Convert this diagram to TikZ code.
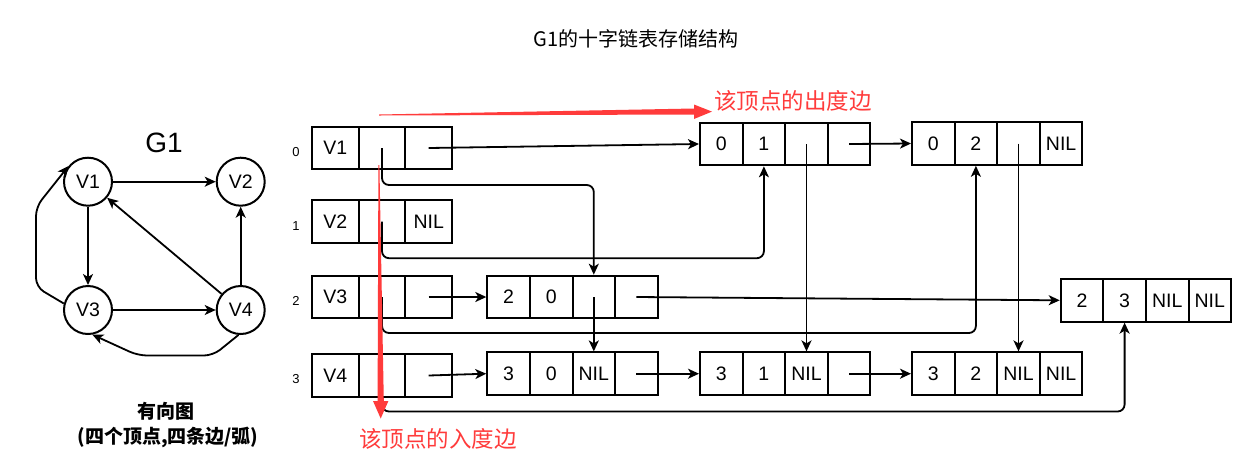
\documentclass[tikz,border=0pt]{standalone}
\usepackage{fontspec}
\setmainfont{Liberation Sans}
\newfontfamily\cjk{Noto Sans CJK SC}
\usetikzlibrary{arrows.meta}
\definecolor{hint}{HTML}{FF3B3B}
\tikzset{
  cell/.style={draw, line width=2pt, inner sep=0pt, minimum height=42.6pt, font=\fontsize{19.5}{21}\selectfont},
  hcell/.style={cell, minimum width=46.7pt},
  acell/.style={cell, minimum width=42.6pt},
  vtx/.style={draw, circle, line width=2pt, minimum size=48pt, inner sep=0pt, font=\fontsize{19.5}{21}\selectfont},
  link/.style={line width=1.8pt, -{Stealth[length=11pt,width=10pt,inset=3pt]}, rounded corners=7pt},
}
\begin{document}
\begin{tikzpicture}[x=1pt, y=-1pt]
\useasboundingbox (0,0) rectangle (1252,467);

\node (title) at (636,39) {\cjk\fontsize{20}{22}\selectfont G1的十字链表存储结构};

% the graph
\node (gname) at (164,143) {\fontsize{28}{30}\selectfont G1};
\node[vtx] (p1) at (88,181.7) {V1};
\node[vtx] (p2) at (240.7,181.7) {V2};
\node[vtx] (p3) at (88,310) {V3};
\node[vtx] (p4) at (240.7,310) {V4};
\draw[link] (p1) -- (p2);
\draw[link] (p1) -- (p3);
\draw[link] (p3) -- (p4);
\draw[link] (p4) -- (p2);
\draw[link] (p4) -- (p1);
\draw[link, rounded corners=9pt] (p3.165) -- (36,287) -- (36,207) -- (p1.141);
\draw[link, rounded corners=9pt] (p4.265) -- (213,355.5) -- (138,355.5) -- (p3.280);
\node (cap1) at (166,411) {\cjk\bfseries\fontsize{19}{21}\selectfont 有向图};
\node (cap2) at (168,437) {\cjk\bfseries\fontsize{19}{21}\selectfont (四个顶点,四条边/弧)};

% vertex table
\foreach \r/\y/\v/\d in {0/148/V1/{}, 1/221.7/V2/NIL, 2/297/V3/{}, 3/375.5/V4/{}} {
  \node (i\r) at (296,\y+4) {\fontsize{13}{15}\selectfont\r};
  \node[hcell] (h\r-1) at (335.3,\y) {\v};
  \node[hcell] (h\r-2) at (382,\y) {};
  \node[hcell] (h\r-3) at (428.7,\y) {\d};
}

% arc nodes
\foreach \n/\x/\y/\a/\b/\c/\d in {e01/700/144/0/1/{}/{}, e02/912/143.5/0/2/{}/NIL,
    e20/487.3/297/2/0/{}/{}, e23/1060.7/300.3/2/3/NIL/NIL,
    e30/487.3/373.7/3/0/NIL/{}, e31/700/373.7/3/1/NIL/{}, e32/912/373.7/3/2/NIL/NIL} {
  \node[acell] (\n-1) at (\x+21.3,\y) {\a};
  \node[acell] (\n-2) at (\x+63.9,\y) {\b};
  \node[acell] (\n-3) at (\x+106.5,\y) {\c};
  \node[acell] (\n-4) at (\x+149.1,\y) {\d};
}

% out links
\draw[link] (h0-3.center) -- (e01-1.west);
\draw[link] (h2-3.center) -- (e20-1.west);
\draw[link] (h3-3.center) -- (e30-1.west);
\draw[link] (e01-4.center) -- (e02-1.west);
\draw[link] (e20-4.center) -- (e23-1.west);
\draw[link] (e30-4.center) -- (e31-1.west);
\draw[link] (e31-4.center) -- (e32-1.west);
% in links
\draw[link] (h0-2.center) -- ++(0,37) -| (e20-3.north);
\draw[link] (h1-2.center) -- ++(0,36.5) -| (e01-2.south);
\draw[link] (h2-2.center) -- ++(0,36) -| (e02-2.south);
\draw[link] (h3-2.center) -- ++(0,36) -| (e23-2.south);
\draw[link] (e20-3.center) -- (e30-3.north);
\draw[link] (e01-3.center) -- (e31-3.north);
\draw[link] (e02-3.center) -- (e32-3.north);

% red hints
\fill[hint] (379,114.5) -- (694,108.5) -- (694,104.5) -- (712,111.6) -- (694,119) -- (694,114.5) -- (379,115.5) -- cycle;
\fill[hint] (378.4,165) -- (377.6,401) -- (373,401) -- (380.7,418.5) -- (388.4,401) -- (383.8,401) -- (379.4,165) -- cycle;
\node[text=hint] (outlbl) at (793,101) {\cjk\fontsize{22.5}{24}\selectfont 该顶点的出度边};
\node[text=hint] (inlbl) at (438,439) {\cjk\fontsize{22.5}{24}\selectfont 该顶点的入度边};
\end{tikzpicture}
\end{document}
